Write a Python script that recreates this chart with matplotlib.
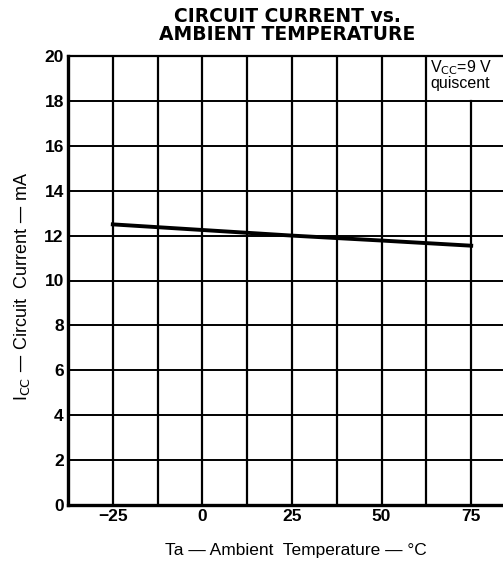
import matplotlib
matplotlib.use("Agg")
import matplotlib.pyplot as plt

# data
temp = [-25, 0, 25, 50, 75]
icc = [12.5, 12.25, 12.0, 11.78, 11.55]

xticks = [-25, 0, 25, 50, 75]
xticklabels = ["\u221225", "0", "25", "50", "75"]
yticks = list(range(0, 21, 2))
xgrid = [-25, -12.5, 0, 12.5, 25, 37.5, 50, 62.5, 75]

plt.rcParams['font.family'] = ['Liberation Sans', 'DejaVu Sans']

fig = plt.figure(figsize=(5.03, 5.63), dpi=100)
ax = fig.add_axes([68 / 503, 58 / 563, 448 / 503, 449 / 563])
ax.set_xlim(-37.5, 87.5)
ax.set_ylim(0, 20)

# grid, the 75 line stops under the Vcc note
for x in xgrid:
    top = 18 if x == 75 else 20
    ax.plot([x, x], [0, top], color="black", lw=1.6, zorder=1)
for y in yticks[1:]:
    ax.plot([-37.5, 87.5], [y, y], color="black", lw=1.4, zorder=1)

ax.plot(temp, icc, color="black", lw=2.8, zorder=3)

ax.set_xticks(xticks)
ax.set_xticklabels(xticklabels)
ax.set_yticks(yticks)
ax.tick_params(length=0, pad=3, labelsize=12.5)
for lab in ax.get_xticklabels() + ax.get_yticklabels():
    lab.set_fontweight("bold")
    lab.set_family(["Liberation Sans Narrow", "Liberation Sans"])

ax.spines["right"].set_visible(False)
ax.spines["left"].set_linewidth(2.4)
ax.spines["bottom"].set_linewidth(2.4)
ax.spines["top"].set_linewidth(1.6)

ax.text(63.6, 19.9, "V$_{\\mathrm{CC}}$=9 V\nquiscent", fontsize=11.5,
        va="top", ha="left", linespacing=0.9)

fig.text(287 / 503, 1 - 17 / 563, "CIRCUIT CURRENT vs.", ha="center", va="center",
         fontsize=13.5, fontweight="bold", family="DejaVu Sans")
fig.text(287 / 503, 1 - 35 / 563, "AMBIENT TEMPERATURE", ha="center", va="center",
         fontsize=13.5, fontweight="bold", family="DejaVu Sans")

fig.text(296 / 503, 1 - 550 / 563, "Ta \u2014 Ambient  Temperature \u2014 \u00b0C",
         ha="center", va="center", fontsize=12.5)
fig.text(22 / 503, 1 - 286 / 563, "I$_{\\mathrm{CC}}$ \u2014 Circuit  Current \u2014 mA",
         ha="center", va="center", rotation=90, fontsize=13)

fig.savefig("out.png", dpi=100)
